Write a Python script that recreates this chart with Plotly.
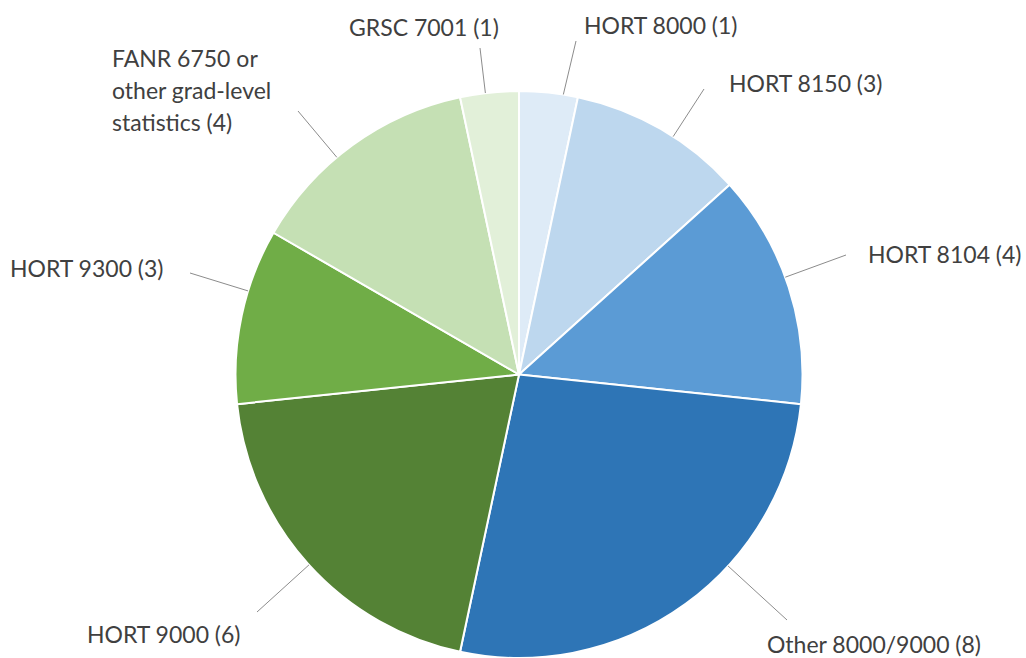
import math
import plotly.graph_objects as go

# ---- data ----
courses = ["HORT 8000", "HORT 8150", "HORT 8104", "Other 8000/9000",
           "HORT 9000", "HORT 9300", "FANR 6750 or other grad-level statistics", "GRSC 7001"]
counts = [1, 3, 4, 8, 6, 3, 4, 1]
label_texts = ["HORT 8000 (1)", "HORT 8150 (3)", "HORT 8104 (4)", "Other 8000/9000 (8)",
               "HORT 9000 (6)", "HORT 9300 (3)",
               "FANR 6750 or<br>other grad-level<br>statistics (4)", "GRSC 7001 (1)"]

# ---- styles ----
colors = ["#DEEBF7", "#BDD7EE", "#5B9BD5", "#2E75B6",
          "#548235", "#70AD47", "#C5E0B4", "#E2F0D9"]
W, H = 1026, 658
dom_x = [234 / W, 804 / W]
dom_y = [0.0, 1 - 91 / H]
FONT = "Lato"
FSIZE = 23
LINE_GAP = 32
TXT = "#404040"
LINE = "#8C8C8C"

# label placement in pixels: (x, y of first line centre, xanchor) and leader line end point
label_place = [(582, 25, "left"), (727, 83, "left"), (866, 254, "left"), (765, 644, "left"),
               (243, 634, "right"), (166, 268, "right"), (110, 58, "left"), (501, 27, "right")]
leader_end = [(576, 41), (704, 89), (846, 255), (787, 620),
              (257, 612), (190, 273), (298, 111), (480, 48)]

fig = go.Figure(go.Pie(
    labels=courses, values=counts, sort=False, direction="clockwise", rotation=0,
    marker=dict(colors=colors, line=dict(color="white", width=2)),
    textinfo="none", domain=dict(x=dom_x, y=dom_y), showlegend=False,
    hovertemplate="%{label}: %{value}<extra></extra>",
))

# pie geometry in pixels (derived from domain)
cx = (dom_x[0] + dom_x[1]) / 2 * W
cy = H * (1 - (dom_y[0] + dom_y[1]) / 2)
r = min((dom_x[1] - dom_x[0]) * W, (dom_y[1] - dom_y[0]) * H) / 2

total = sum(counts)
cum = 0
shapes, annotations = [], []
for i, v in enumerate(counts):
    a0 = cum / total * 360
    a1 = (cum + v) / total * 360
    cum += v
    ex, ey = leader_end[i]
    # attach leader at the slice-edge point nearest to the label (kept off the slice borders)
    ang = math.degrees(math.atan2(ex - cx, cy - ey)) % 360
    lo, hi = a0 + 0.25 * (a1 - a0), a1 - 0.25 * (a1 - a0)
    ang = min(max(ang, lo), hi)
    t = math.radians(ang)
    sx = cx + r * math.sin(t)
    sy = cy - r * math.cos(t)
    shapes.append(dict(type="line", xref="paper", yref="paper",
                       x0=sx / W, y0=1 - sy / H, x1=ex / W, y1=1 - ey / H,
                       line=dict(color=LINE, width=1)))
    lx, ly, anc = label_place[i]
    for j, part in enumerate(label_texts[i].split("<br>")):
        annotations.append(dict(text=part, xref="paper", yref="paper",
                                x=lx / W, y=1 - (ly + j * LINE_GAP) / H,
                                xanchor=anc, yanchor="middle",
                                showarrow=False,
                                font=dict(family=FONT, size=FSIZE, color=TXT)))

fig.update_layout(width=W, height=H, margin=dict(l=0, r=0, t=0, b=0),
                  paper_bgcolor="white", plot_bgcolor="white",
                  shapes=shapes, annotations=annotations)
fig.write_html("out.html", config={"displayModeBar": False},
               post_script="document.body.style.margin='0px';")
